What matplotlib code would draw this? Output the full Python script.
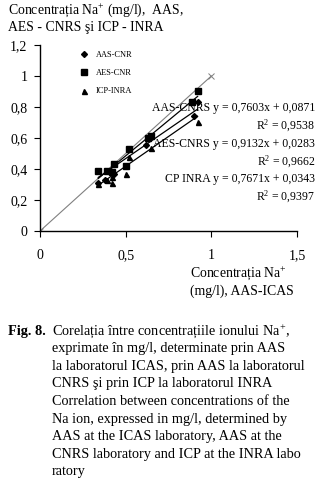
import matplotlib
matplotlib.use("Agg")
import matplotlib.pyplot as plt
import numpy as np

plt.rcParams['font.family'] = ['Liberation Serif', 'DejaVu Serif']
plt.rcParams['mathtext.fontset'] = 'custom'
plt.rcParams['mathtext.rm'] = 'Liberation Serif'
plt.rcParams['mathtext.it'] = 'Liberation Serif:italic'
plt.rcParams['mathtext.bf'] = 'Liberation Serif:bold'

# concentratii Na+ (mg/l): AAS-ICAS pe x, celelalte laboratoare pe y
aas_cnr_x = [0.34, 0.38, 0.43, 0.62, 0.90, 0.92]
aas_cnr_y = [0.31, 0.33, 0.37, 0.555, 0.74, 0.83]
aes_cnr_x = [0.34, 0.39, 0.42, 0.43, 0.50, 0.52, 0.63, 0.65, 0.89, 0.92]
aes_cnr_y = [0.39, 0.39, 0.38, 0.43, 0.42, 0.53, 0.60, 0.61, 0.83, 0.90]
icp_x = [0.34, 0.39, 0.42, 0.42, 0.50, 0.52, 0.65, 0.92]
icp_y = [0.30, 0.33, 0.31, 0.35, 0.37, 0.48, 0.535, 0.70]

# dreptele de regresie (panta, intercept, R^2)
reg_aas = (0.7603, 0.0871, 0.9538)
reg_aes = (0.9132, 0.0283, 0.9662)
reg_icp = (0.7671, 0.0343, 0.9397)

x_ticks = [0, 0.5, 1, 1.5]
x_tick_labels = ["0", "0,5", "1", "1,5"]
y_ticks = [0, 0.2, 0.4, 0.6, 0.8, 1, 1.2]
y_tick_labels = ["0", "0,2", "0,4", "0,6", "0,8", "1", "1,2"]


def fmt(v):
    return f"{v:.4f}".replace(".", ",")


W, H = 332, 490
fig = plt.figure(figsize=(W / 100, H / 100), dpi=100)
ax = fig.add_axes([40 / W, (H - 231) / H, (297 - 40) / W, (231 - 45) / H])

# prima bisectoare
ax.plot([0, 1], [0, 1], color="gray", lw=0.8, marker="x", ms=4, mew=0.7)

ax.plot(aas_cnr_x, aas_cnr_y, "D", color="black", ms=3, label="AAS-CNR")
ax.plot(aes_cnr_x, aes_cnr_y, "s", color="black", ms=4.8, label="AES-CNR")
ax.plot(icp_x, icp_y, "^", color="black", ms=3.6, label="ICP-INRA")

xx = np.array([0.34, 0.92])
for a, b, _ in (reg_aas, reg_aes, reg_icp):
    ax.plot(xx, a * xx + b, color="black", lw=0.9)

ax.set_xlim(0, 1.5)
ax.set_ylim(0, 1.2)
ax.set_xticks(x_ticks)
ax.set_xticklabels(x_tick_labels)
ax.set_yticks(y_ticks)
ax.set_yticklabels(y_tick_labels)
ax.tick_params(axis="x", direction="out", length=4, pad=9, labelsize=10)
ax.tick_params(axis="y", direction="out", length=4, pad=5, labelsize=10)
ax.spines["top"].set_visible(False)
ax.spines["right"].set_visible(False)
for s in ("left", "bottom"):
    ax.spines[s].set_linewidth(1.0)

ax.legend(loc="upper left", bbox_to_anchor=(0.125, 1.01), frameon=False,
          fontsize=6, handlelength=1, handletextpad=0.9, labelspacing=1.25)

# ecuatiile si R^2
eq = [("AAS-CNRS", reg_aas), ("AES-CNRS", reg_aes), ("CP INRA", reg_icp)]
y0 = 108
for i, (name, (a, b, r2)) in enumerate(eq):
    ypix = y0 + i * 35.5
    fig.text(315 / W, 1 - ypix / H, f"{name} y = {fmt(a)}x + {fmt(b)}",
             ha="right", va="center", fontsize=8.5)
    fig.text(315 / W, 1 - (ypix + 18) / H, r"R$^\mathrm{2}$ = " + fmt(r2),
             ha="right", va="center", fontsize=8.5)

# titlul axei y
fig.text(8 / W, 1 - 10 / H, r"Concentrația $\mathrm{Na}^\mathrm{+}$ (mg/l),  AAS,",
         ha="left", va="center", fontsize=9.9)
fig.text(8 / W, 1 - 27 / H, "AES - CNRS şi ICP - INRA",
         ha="left", va="center", fontsize=9.9)

# titlul axei x
fig.text(190 / W, 1 - 273 / H, r"Concentrația $\mathrm{Na}^\mathrm{+}$",
         ha="left", va="center", fontsize=9.9)
fig.text(190 / W, 1 - 291 / H, "(mg/l), AAS-ICAS",
         ha="left", va="center", fontsize=9.9)

# legenda figurii
caption = [
    r"Corelația între concentrațiile ionului $\mathrm{Na}^\mathrm{+}$,",
    "exprimate în mg/l, determinate prin AAS",
    "la laboratorul ICAS, prin AAS la laboratorul",
    "CNRS şi prin ICP la laboratorul INRA",
    "Correlation between concentrations of the",
    "Na ion, expressed in mg/l, determined by",
    "AAS at the ICAS laboratory, AAS at the",
    "CNRS laboratory and ICP at the INRA labo",
    "ratory",
]
fig.text(8 / W, 1 - 331 / H, "Fig. 8.", ha="left", va="center",
         fontsize=10.3, fontweight="bold")
for i, line in enumerate(caption):
    fig.text(52 / W, 1 - (331 + i * 17.6) / H, line, ha="left", va="center",
             fontsize=10.3)

fig.savefig("out.png", dpi=100)
